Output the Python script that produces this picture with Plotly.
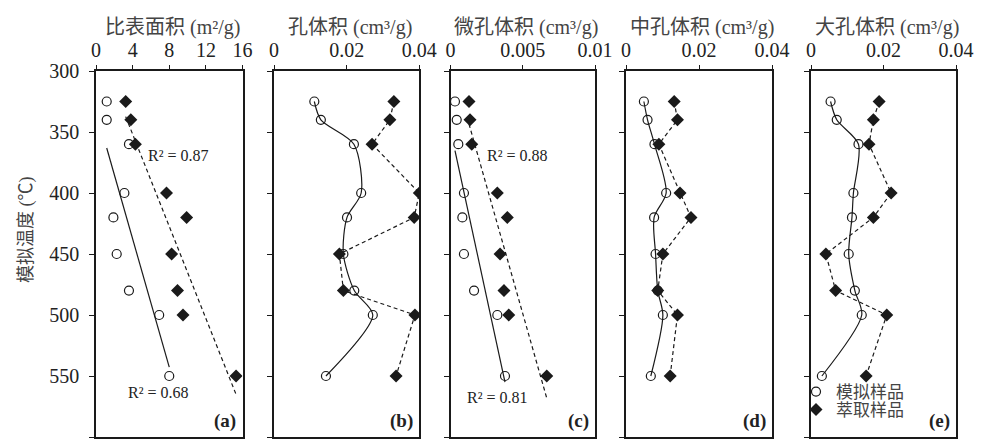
import numpy as np
import plotly.graph_objects as go

W, H = 982, 442

# ---------------- data ----------------
temps = [325, 340, 360, 400, 420, 450, 480, 500, 550]

# (a) specific surface area (m2/g)
sa_sim = [1.17, 1.17, 3.6, 3.1, 1.9, 2.26, 3.6, 6.9, 8.0]
sa_ext = [3.24, 3.8, 4.3, 7.7, 9.9, 8.26, 8.9, 9.5, 15.3]
# (b) pore volume (cm3/g)
pv_sim = [0.0111, 0.0129, 0.0220, 0.0240, 0.0201, 0.0191, 0.0221, 0.0272, 0.0143]
pv_ext = [0.0330, 0.0319, 0.0270, 0.0400, 0.0386, 0.0180, 0.0191, 0.0388, 0.0336]
# (c) micropore volume (cm3/g)
mic_sim = [0.00031, 0.00043, 0.00054, 0.00093, 0.00082, 0.00093, 0.00163, 0.00324, 0.00377]
mic_ext = [0.00128, 0.00135, 0.00147, 0.00324, 0.00393, 0.00343, 0.00370, 0.00403, 0.00666]
# (d) mesopore volume (cm3/g)
mes_sim = [0.0049, 0.0059, 0.0078, 0.0110, 0.0077, 0.0081, 0.0087, 0.0101, 0.0068]
mes_ext = [0.0132, 0.0141, 0.0090, 0.0148, 0.0178, 0.0101, 0.0087, 0.0141, 0.0121]
# (e) macropore volume (cm3/g)
mac_sim = [0.0054, 0.0071, 0.0131, 0.0117, 0.0113, 0.0104, 0.0121, 0.0140, 0.0030]
mac_ext = [0.0188, 0.0172, 0.0160, 0.0221, 0.0172, 0.0041, 0.0068, 0.0209, 0.0152]

titles = ["比表面积 (m²/g)", "孔体积 (cm³/g)", "微孔体积 (cm³/g)", "中孔体积 (cm³/g)", "大孔体积 (cm³/g)"]
panel_tags = ["(a)", "(b)", "(c)", "(d)", "(e)"]
x_ranges = [[0, 16], [0, 0.04], [0, 0.01], [0, 0.04], [0, 0.04]]
x_tickvals = [[0, 4, 8, 12, 16], [0, 0.02, 0.04], [0, 0.005, 0.01], [0, 0.02, 0.04], [0, 0.02, 0.04]]
x_ticktext = [["0", "4", "8", "12", "16"], ["0", "0.02", "0.04"], ["0", "0.005", "0.01"],
              ["0", "0.02", "0.04"], ["0", "0.02", "0.04"]]
y_tickvals = [300, 350, 400, 450, 500, 550, 600]
r2_labels = {0: ("R² = 0.68", "R² = 0.87"), 2: ("R² = 0.81", "R² = 0.88")}
legend_names = ["模拟样品", "萃取样品"]
y_title = "模拟温度 (℃)"

series = [(sa_sim, sa_ext), (pv_sim, pv_ext), (mic_sim, mic_ext), (mes_sim, mes_ext), (mac_sim, mac_ext)]

# ---------------- layout geometry (pixels) ----------------
panels_px = [(96, 242.5), (274, 419.3), (450.5, 595), (626, 772), (811, 956)]
y_top_px, y_bot_px = 71, 437
ydom = [1 - y_bot_px / H, 1 - y_top_px / H]

FONT = "Liberation Serif, Times New Roman, Noto Sans CJK SC, serif"
INK = "#1a1a1a"

fig = go.Figure()

for i, (sim, ext) in enumerate(series):
    xa = "x" if i == 0 else f"x{i+1}"
    ya = "y" if i == 0 else f"y{i+1}"
    trend = i in (0, 2)
    fig.add_trace(go.Scatter(
        x=sim, y=temps, xaxis=xa, yaxis=ya,
        mode="markers" if trend else "lines+markers",
        line=dict(color=INK, width=1.2, shape="spline", smoothing=0.8),
        marker=dict(symbol="circle-open", size=9, color=INK, line=dict(width=1.2)),
        showlegend=False, hoverinfo="skip"))
    fig.add_trace(go.Scatter(
        x=ext, y=temps, xaxis=xa, yaxis=ya,
        mode="markers" if trend else "lines+markers",
        line=dict(color=INK, width=1.2, dash="4px,3px"),
        marker=dict(symbol="diamond", size=10, color=INK),
        showlegend=False, hoverinfo="skip"))
    if trend:
        for vals, dash in ((sim, "solid"), (ext, "4px,3px")):
            b, a = np.polyfit(vals, temps, 1)
            xs = np.array([min(vals), max(vals)])
            fig.add_trace(go.Scatter(
                x=xs, y=a + b * xs, xaxis=xa, yaxis=ya, mode="lines",
                line=dict(color=INK, width=1.2, dash=dash),
                showlegend=False, hoverinfo="skip"))

fig.add_trace(go.Scatter(x=[None], y=[None], xaxis="x5", yaxis="y5", mode="markers",
                         name=legend_names[0], legend="legend",
                         marker=dict(symbol="circle-open", size=9, color=INK, line=dict(width=1.2))))
fig.add_trace(go.Scatter(x=[None], y=[None], xaxis="x5", yaxis="y5", mode="markers",
                         name=legend_names[1], legend="legend2",
                         marker=dict(symbol="diamond", size=10, color=INK)))

leg_common = dict(xanchor="left", yanchor="middle", bgcolor="rgba(0,0,0,0)",
                  font=dict(size=17, color="#444444"), itemwidth=30)

layout = dict(
    width=W, height=H,
    margin=dict(l=0, r=0, t=0, b=0, pad=0, autoexpand=False),
    paper_bgcolor="white", plot_bgcolor="white",
    font=dict(family=FONT, size=20, color=INK),
    showlegend=True,
    legend=dict(x=796 / W, y=1 - 392 / H, **leg_common),
    legend2=dict(x=796 / W, y=1 - 410 / H, **leg_common),
)

annotations = []
for i in range(5):
    xk = "xaxis" if i == 0 else f"xaxis{i+1}"
    yk = "yaxis" if i == 0 else f"yaxis{i+1}"
    x0, x1 = panels_px[i]
    layout[xk] = dict(
        domain=[x0 / W, x1 / W], anchor="y" if i == 0 else f"y{i+1}",
        side="top", range=x_ranges[i], tickvals=x_tickvals[i], ticktext=x_ticktext[i],
        showline=True, linecolor=INK, linewidth=1.5, mirror=True,
        ticks="outside", ticklen=4, tickwidth=1.3, tickcolor=INK,
        showgrid=False, zeroline=False, ticklabelstandoff=0, automargin=False,
        tickfont=dict(size=20, color="#222222"),
    )
    layout[yk] = dict(
        domain=ydom, anchor="x" if i == 0 else f"x{i+1}",
        range=[600, 300], tickvals=y_tickvals,
        showticklabels=(i == 0),
        showline=True, linecolor=INK, linewidth=1.5, mirror=True,
        ticks="outside", ticklen=5, tickwidth=1.3, tickcolor=INK,
        showgrid=False, zeroline=False, ticklabelstandoff=6, automargin=False,
        tickfont=dict(size=20, color="#222222"),
    )
    annotations.append(dict(
        text=titles[i], xref=f"x{'' if i == 0 else i+1} domain", x=0.5, xshift=3,
        yref="paper", y=1 - 27 / H, yanchor="middle", showarrow=False,
        font=dict(size=20, color="#444444")))
    annotations.append(dict(
        text=f"<b>{panel_tags[i]}</b>", xref=f"x{'' if i == 0 else i+1} domain", x=0.97,
        xanchor="right", yref="paper", y=1 - 421 / H, yanchor="middle", showarrow=False,
        font=dict(size=19, color="#222222")))

r2_pos = {0: ((158, 392), (178, 155)), 2: ((498, 397), (517, 155))}
for i, (lab_sim, lab_ext) in r2_labels.items():
    for lab, (px, py) in zip((lab_sim, lab_ext), r2_pos[i]):
        annotations.append(dict(text=lab, xref="paper", x=px / W, yref="paper", y=1 - py / H,
                                xanchor="center", yanchor="middle", showarrow=False,
                                font=dict(size=16, color="#222222")))

annotations.append(dict(text=y_title, xref="paper", x=26 / W, yref="paper", y=1 - 230 / H,
                        xanchor="center", yanchor="middle", textangle=-90, showarrow=False,
                        font=dict(size=18, color="#444444")))

layout["annotations"] = annotations
fig.update_layout(**layout)
fig.write_html("out.html", config={"displayModeBar": False},
               post_script="document.body.style.margin='0';document.body.style.overflow='hidden';")
